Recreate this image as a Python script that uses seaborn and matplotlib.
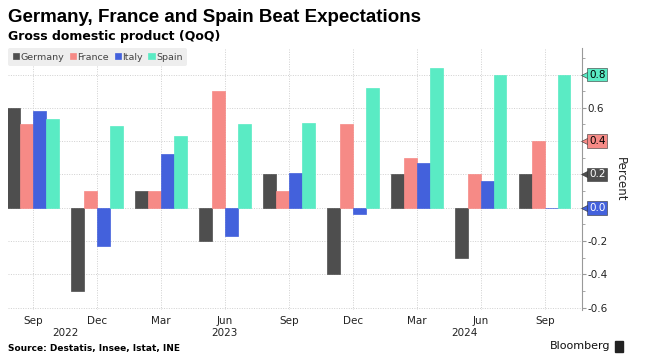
import matplotlib
matplotlib.use("Agg")
import matplotlib.pyplot as plt
import matplotlib.patches as mpatches
from matplotlib.ticker import MultipleLocator
import seaborn as sns
import pandas as pd

quarters = ["Sep 2022", "Dec 2022", "Mar 2023", "Jun 2023", "Sep 2023",
            "Dec 2023", "Mar 2024", "Jun 2024", "Sep 2024"]
month_labels = ["Sep", "Dec", "Mar", "Jun", "Sep", "Dec", "Mar", "Jun", "Sep"]
countries = ["Germany", "France", "Italy", "Spain"]

germany = [0.6, -0.5, 0.1, -0.2, 0.2, -0.4, 0.2, -0.3, 0.2]
france = [0.5, 0.1, 0.1, 0.7, 0.1, 0.5, 0.3, 0.2, 0.4]
italy = [0.58, -0.23, 0.32, -0.17, 0.21, -0.04, 0.27, 0.16, 0.0]
spain = [0.53, 0.49, 0.43, 0.5, 0.51, 0.72, 0.84, 0.8, 0.8]

years = ["2022", "2023", "2024"]
year_pos = [0.5, 3.0, 6.75]

colors = {"Germany": "#4e4e4e", "France": "#f68a86",
          "Italy": "#4361dc", "Spain": "#5aebc4"}
text_colors = {"Germany": "white", "France": "black",
               "Italy": "white", "Spain": "black"}

series = dict(zip(countries, [germany, france, italy, spain]))
df = pd.DataFrame([
    {"quarter": q, "country": c, "value": v}
    for c in countries for q, v in zip(quarters, series[c])
])
last_values = [series[c][-1] for c in countries]

sns.set_style("white")
plt.rcParams["font.family"] = ["DejaVu Sans"]

fig = plt.figure(figsize=(6.56, 3.63), dpi=100)
ax = fig.add_axes([0.0122, 0.146, 0.875, 0.722])

sns.barplot(data=df, x="quarter", y="value", hue="country",
            hue_order=countries, order=quarters, palette=colors,
            saturation=1, width=0.8, ax=ax, legend=True)
# keep zero-height bars visible as a thin line
for patch in ax.patches:
    patch.set_edgecolor(patch.get_facecolor())
    patch.set_linewidth(0.5)

ax.yaxis.tick_right()
ax.yaxis.set_label_position("right")
ax.yaxis.set_minor_locator(MultipleLocator(0.1))
yticks = [-0.6, -0.4, -0.2, 0.0, 0.2, 0.4, 0.6, 0.8]
ax.set_yticks(yticks)
# labels hidden behind the last-value markers
ax.set_yticklabels(["" if any(abs(t - v) < 1e-9 for v in last_values)
                    else f"{t:.1f}" for t in yticks])
ax.set_ylim(-0.615, 0.96)
ax.set_xlim(-0.39, 8.58)
ax.tick_params(axis="y", which="major", direction="out", length=3,
               width=0.8, color="#999999", labelsize=7.5, pad=1,
               labelcolor="#222222")
ax.tick_params(axis="y", which="minor", direction="out", length=2,
               width=0.6, color="#999999")
ax.set_ylabel("Percent", rotation=270, labelpad=14, fontsize=8.5)

ax.set_xticks(range(len(quarters)))
ax.set_xticklabels(month_labels)
ax.tick_params(axis="x", length=0, labelsize=7.5, pad=4,
               labelcolor="#222222")
ax.set_xlabel("")
for y, pos in zip(years, year_pos):
    ax.text(pos, -0.07, y, transform=ax.get_xaxis_transform(),
            ha="center", va="top", fontsize=7.5, color="#222222")

ax.grid(True, axis="both", linestyle=(0, (1, 1.5)), color="#d0d0d0",
        linewidth=0.7)
ax.set_axisbelow(True)
for side in ["top", "left", "bottom"]:
    ax.spines[side].set_visible(False)
ax.spines["right"].set_color("#999999")
ax.spines["right"].set_linewidth(0.8)

leg = ax.legend(loc="upper left", ncol=4, frameon=True, fontsize=6.8,
                handlelength=0.65, handleheight=0.65, handletextpad=0.15,
                columnspacing=0.6, borderpad=0.5, borderaxespad=0.0,
                labelcolor="#444444")
leg.get_frame().set_facecolor("#eeeeee")
leg.get_frame().set_edgecolor("none")
leg.get_frame().set_alpha(1)

# last-value markers on the right axis
for c in countries:
    v = series[c][-1]
    ax.plot([1.0075], [v], marker="<", markersize=7.5, color=colors[c],
            markeredgecolor="#333333", markeredgewidth=0.4,
            transform=ax.get_yaxis_transform(), clip_on=False, zorder=5)
    ax.text(1.012, v, f"{v:.1f}", transform=ax.get_yaxis_transform(),
            ha="left", va="center", fontsize=7.5, color=text_colors[c],
            zorder=6,
            bbox=dict(boxstyle="square,pad=0.18", fc=colors[c],
                      ec="#333333", lw=0.4))

fig.text(0.012, 0.952, "Germany, France and Spain Beat Expectations",
         fontsize=13.5, fontweight="bold", va="center", color="black",
         family="Liberation Sans")
fig.text(0.012, 0.9, "Gross domestic product (QoQ)",
         fontsize=9, fontweight="bold", va="center", color="black")
fig.text(0.012, 0.04, "Source: Destatis, Insee, Istat, INE",
         fontsize=6.5, fontweight="bold", va="center", color="black")
fig.text(0.93, 0.046, "Bloomberg", fontsize=8, ha="right", va="center",
         color="#111111")
fig.patches.append(mpatches.Rectangle((0.938, 0.03), 0.012, 0.03,
                                      transform=fig.transFigure,
                                      color="#222222"))

fig.savefig("out.png", dpi=100)
